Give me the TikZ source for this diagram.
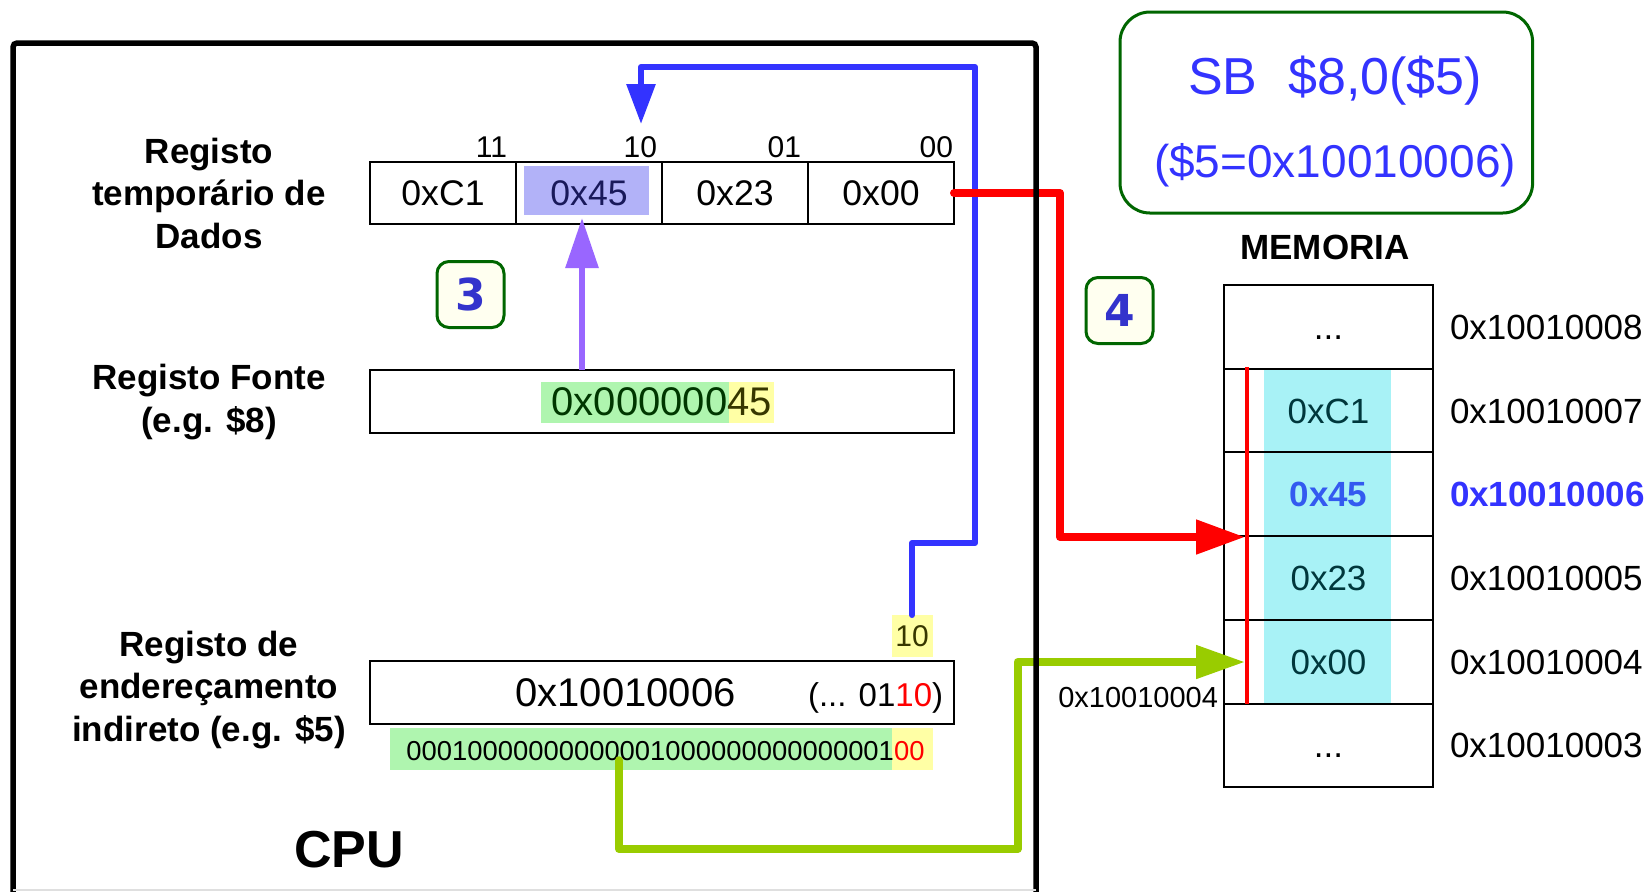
\documentclass[tikz,border=0pt]{standalone}
\usepackage{fontspec}
\setmainfont{Liberation Sans}
\newfontfamily\stepfont{DejaVu Sans}
\usetikzlibrary{arrows.meta}
\definecolor{cblue}{RGB}{51,51,255}
\definecolor{cpurple}{RGB}{153,102,255}
\definecolor{cgreen}{RGB}{153,204,0}
\definecolor{dgreen}{RGB}{0,102,0}
\definecolor{stepblue}{RGB}{51,51,204}
\definecolor{hlgreen}{RGB}{175,245,175}
\definecolor{hlyellow}{RGB}{255,255,165}
\definecolor{hlblue}{RGB}{178,178,248}
\definecolor{hlcyan}{RGB}{168,242,246}
\definecolor{ivory}{RGB}{255,255,240}
\definecolor{txgreen}{RGB}{0,55,0}
\definecolor{txolive}{RGB}{55,55,0}
\definecolor{txnavy}{RGB}{25,25,90}
\definecolor{txteal}{RGB}{0,55,60}
\definecolor{memblue}{RGB}{51,90,240}
\begin{document}
\begin{tikzpicture}[x=0.5pt,y=-0.5pt,
  every node/.style={inner sep=0pt, outer sep=0pt},
  lbl/.style={font=\bfseries\fontsize{17.5pt}{21.25pt}\selectfont, align=center},
  bitlbl/.style={font=\fontsize{15pt}{17pt}\selectfont, anchor=base east},
  cell/.style={draw, line width=1pt, minimum width=73pt, minimum height=31pt,
    font=\fontsize{17.8pt}{20pt}\selectfont, text height=12.7pt, text depth=0pt},
  widebox/.style={draw, line width=1pt, minimum width=291.75pt, minimum height=31.5pt},
  memrow/.style={draw, line width=1pt, minimum width=104.5pt, minimum height=41.85pt,
    font=\fontsize{17.5pt}{20pt}\selectfont, text height=12.6pt, text depth=0pt},
  addrlbl/.style={anchor=west, font=\fontsize{17.5pt}{20pt}\selectfont, text height=12.6pt, text depth=0pt},
  stepbox/.style={draw=dgreen, fill=ivory, line width=1.5pt, rounded corners=6pt,
    minimum width=33.5pt, minimum height=33pt,
    font=\stepfont\bfseries\fontsize{22pt}{24pt}\selectfont, text=stepblue},
  conn/.style={line width=3pt, line join=round, line cap=round},
  thickconn/.style={line width=4pt, line join=round, line cap=round}
]
\useasboundingbox (0,0) rectangle (1652,891);
\clip (0,0) rectangle (1652,891);
\fill[white] (0,0) rectangle (1652,891);

% ---------- highlights ----------
\fill[hlblue] (524,166) rectangle (649,215);
\fill[hlgreen] (541,382) rectangle (729,423);
\fill[hlyellow] (729,382) rectangle (774,423);
\node[fill=hlgreen, minimum width=250.75pt, minimum height=21pt] (binhl) at (640.75,749) {};
\node[fill=hlyellow, minimum width=20.5pt, minimum height=21pt] (binhly) at (912,749) {};
\fill[hlcyan] (1264.4,368.7) rectangle (1391,703.5);

% ---------- left labels ----------
\node[lbl] (lbltemp) at (209,193) {Registo\\temporário de\\Dados};
\node[lbl] (lblfonte) at (209,402) {Registo Fonte\\(e.g. \$8)};
\node[lbl] (lbladdr) at (209,690) {Registo de\\endereçamento\\indireto (e.g. \$5)};

% ---------- temporary data register ----------
\node[cell] (c1) at (443,193) {0xC1};
\node[cell, text=txnavy] (c2) at (589,193) {0x45};
\node[cell] (c3) at (735,193) {0x23};
\node[cell] (c4) at (881,193) {0x00};
\node[bitlbl] (b11) at (507,157) {11};
\node[bitlbl] (b10) at (657,157) {10};
\node[bitlbl] (b01) at (801,157) {01};
\node[bitlbl] (b00) at (953,157) {00};

% ---------- source register ----------
\node[widebox, font=\fontsize{20pt}{24pt}\selectfont, text height=14.3pt, text depth=0pt]
  (fonte) at (661.75,401.5) {\textcolor{txgreen}{0x000000}\textcolor{txolive}{45}};

% ---------- address register ----------
\node[widebox] (addrbox) at (661.75,692.5) {};
\node[anchor=base, font=\fontsize{20pt}{24pt}\selectfont] (addrval) at (625.5,706) {0x10010006};
\node[anchor=base west, font=\fontsize{16.5pt}{20pt}\selectfont] (addrbits) at (808,706) {(... 01\textcolor{red}{10})};
\node[fill=hlyellow, minimum width=20.5pt, minimum height=21pt, text=txolive,
  font=\fontsize{15pt}{17pt}\selectfont, text height=10.7pt, text depth=0pt] (tenlbl) at (912,636) {10};
\node[anchor=base, font=\fontsize{13.7pt}{16pt}\selectfont] (bintxt) at (665.5,760)
  {00010000000000001000000000000001\textcolor{red}{00}};

% ---------- step boxes ----------
\node[stepbox] (s3) at (470.5,294.5) {3};
\node[stepbox] (s4) at (1119.5,310.5) {4};

% ---------- CPU label ----------
\node[anchor=base, font=\bfseries\fontsize{26pt}{30pt}\selectfont] (cpulbl) at (349,867) {CPU};

% ---------- instruction box ----------
\node[draw=dgreen, line width=1.5pt, rounded corners=15pt, minimum width=206.3pt, minimum height=100.5pt] (instr) at (1326.3,112.5) {};
\node[anchor=base west, text=cblue, font=\fontsize{26pt}{30pt}\selectfont] (instr1) at (1188,94) {SB\hspace{15.5pt}\$8,0(\$5)};
\node[anchor=base, text=cblue, font=\fontsize{23pt}{27pt}\selectfont] (instr2) at (1335,177) {(\$5=0x10010006)};

% ---------- memory ----------
\node[anchor=base, font=\bfseries\fontsize{17.5pt}{20pt}\selectfont] (memlbl) at (1325,259) {MEMORIA};
\node[memrow] (m1) at (1328.5,326.85) {...};
\node[memrow, text=txteal] (m2) at (1328.5,410.55) {0xC1};
\node[memrow, text=memblue, font=\bfseries\fontsize{17.5pt}{20pt}\selectfont] (m3) at (1328.5,494.25) {0x45};
\node[memrow, text=txteal] (m4) at (1328.5,577.95) {0x23};
\node[memrow, text=txteal] (m5) at (1328.5,661.65) {0x00};
\node[memrow] (m6) at (1328.5,745.35) {...};
\node[addrlbl] (a1) at (1450,326.85) {0x10010008};
\node[addrlbl] (a2) at (1450,410.55) {0x10010007};
\node[addrlbl, text=cblue, font=\bfseries\fontsize{17.5pt}{20pt}\selectfont] (a3) at (1450,494.25) {0x10010006};
\node[addrlbl] (a4) at (1450,577.95) {0x10010005};
\node[addrlbl] (a5) at (1450,661.65) {0x10010004};
\node[addrlbl] (a6) at (1450,745.35) {0x10010003};
\node[anchor=base east, font=\fontsize{14.5pt}{17pt}\selectfont] (wordaddr) at (1218,707) {0x10010004};
\draw[red, line width=2pt] (1247,367) -- (1247,703.5);

% ---------- connectors ----------
\coordinate (bl1) at (975,543);
\coordinate (bl2) at (975,67);
\coordinate (bluetip) at (641,124);
\draw[conn, cblue, -{Triangle[length=20pt,width=14pt]}] (tenlbl.north) |- (bl1) -- (bl2) -| (bluetip);

\coordinate (ptip) at (582,218);
\draw[conn, cpurple, line cap=butt, -{Triangle[length=25pt,width=16pt]}] (ptip |- fonte.north) -- (ptip);

\coordinate (rd1) at (1060,537);
\coordinate (redtip) at (1245,537);
\draw[thickconn, red, -{Triangle[length=24.5pt,width=16.5pt]}] (c4.east) -| (rd1) -- (redtip);

\coordinate (gr1) at (619,849);
\coordinate (gr2) at (1017.5,849);
\coordinate (greentip) at (1245,662);
\draw[thickconn, cgreen, -{Triangle[length=24.5pt,width=16pt]}] (gr1 |- bintxt.south) -- (gr1) -- (gr2) |- (greentip);

% ---------- CPU frame ----------
\draw[line width=2.75pt, rounded corners=2pt] (13,900) -- (13,43) -- (1036,43) -- (1036,900);
\draw[gray!25, line width=1pt] (13,889.5) -- (1036,889.5);
\end{tikzpicture}
\end{document}
